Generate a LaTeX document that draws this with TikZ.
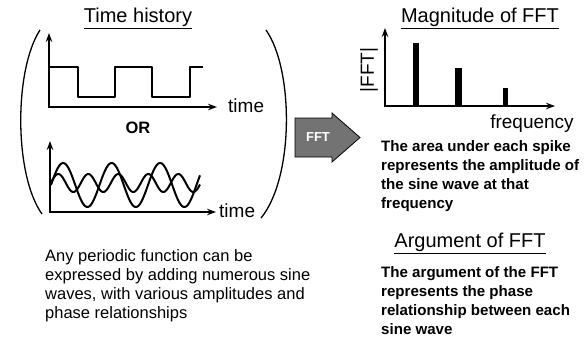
\documentclass[tikz,border=0pt]{standalone}
\usepackage{fontspec}
\setmainfont{Liberation Sans}
\usetikzlibrary{arrows.meta}
\begin{document}
\begin{tikzpicture}[x=1pt,y=-1pt,
  title/.style={font=\fontsize{20}{23}\selectfont, inner sep=0pt},
  axlabel/.style={font=\fontsize{19}{22}\selectfont, inner sep=0pt},
  capreg/.style={font=\fontsize{16.5}{19}\selectfont, align=left, inner sep=0pt, anchor=north west},
  capbold/.style={font=\bfseries\fontsize{15.1}{19}\selectfont, align=left, inner sep=0pt, anchor=north west},
  axes/.style={line width=1.5pt, {Stealth[length=9pt,width=6.5pt]}-{Stealth[length=9pt,width=6.5pt]}},
  wave/.style={line width=2pt, line join=round},
  paren/.style={line width=1.3pt},
  bar/.style={fill=black}
]
\useasboundingbox (0,0) rectangle (586,341);

% ---- titles
\node[title] (t1) at (138,18) {\underline{Time history}};
\node[title] (t2) at (480,18) {\underline{Magnitude of FFT}};
\node[title] (t3) at (470,243) {\underline{Argument of FFT}};

% ---- parentheses
\draw[paren] (40,30) .. controls (14,70) and (14,175) .. (42,214);
\draw[paren] (266,30) .. controls (294,70) and (294,178) .. (261,218);

% ---- square wave plot
\coordinate (sqTop) at (49,33);
\coordinate (sqO) at (49,107);
\coordinate (sqEnd) at (217,107);
\draw[axes] (sqTop) -- (sqO) -- (sqEnd);
\draw[wave] (49,67) -- (78,67) -- (78,97) -- (115,97) -- (115,67) -- (152,67)
  -- (152,97) -- (190,97) -- (190,67) -- (203,67);
\node[axlabel, anchor=west] (time1) at (228,106) {time};

\node[font=\bfseries\fontsize{16.5}{18}\selectfont, inner sep=0pt] (or) at (138,128) {OR};

% ---- sine plot
\coordinate (snTop) at (50,141);
\coordinate (snO) at (50,212);
\coordinate (snEnd) at (216,212);
\draw[axes] (snTop) -- (snO) -- (snEnd);
\draw[wave] plot[domain=51:200, samples=160, smooth] (\x, {185 - 22*sin(7.4227*(\x-51))});
\draw[wave] plot[domain=51:200, samples=160, smooth] (\x, {183 - 9*cos(12*(\x-58.3))});
\node[axlabel, anchor=west] (time2) at (219,211) {time};

% ---- FFT block arrow
\draw[fill=black!55, line width=0.8pt] (295,118) -- (332,118) -- (332,113) -- (360,137.5)
  -- (332,162) -- (332,157) -- (295,157) -- cycle;
\node[font=\bfseries\fontsize{13}{14}\selectfont, text=white, inner sep=0pt] (fftlbl) at (318,137.5) {FFT};

% ---- FFT magnitude plot
\coordinate (fTop) at (385,28);
\coordinate (fO) at (385,106);
\coordinate (fEnd) at (555,106);
\draw[axes] (fTop) -- (fO) -- (fEnd);
\fill[bar] (413,43) rectangle (419,106);
\fill[bar] (455,68) rectangle (462,106);
\fill[bar] (503,88) rectangle (508,106);
\node[axlabel, rotate=90] (absfft) at (369,70) {|FFT|};
\node[axlabel] (freq) at (532,124) {frequency};

% ---- captions
\node[capbold] (cap1) at (381,140) {The area under each spike\\represents the amplitude of\\the sine wave at that\\frequency};
\node[capreg] (cap2) at (45,249) {Any periodic function can be\\expressed by adding numerous sine\\waves, with various amplitudes and\\phase relationships};
\node[capbold] (cap3) at (381,266.5) {The argument of the FFT\\represents the phase\\relationship between each\\sine wave};
\end{tikzpicture}
\end{document}
